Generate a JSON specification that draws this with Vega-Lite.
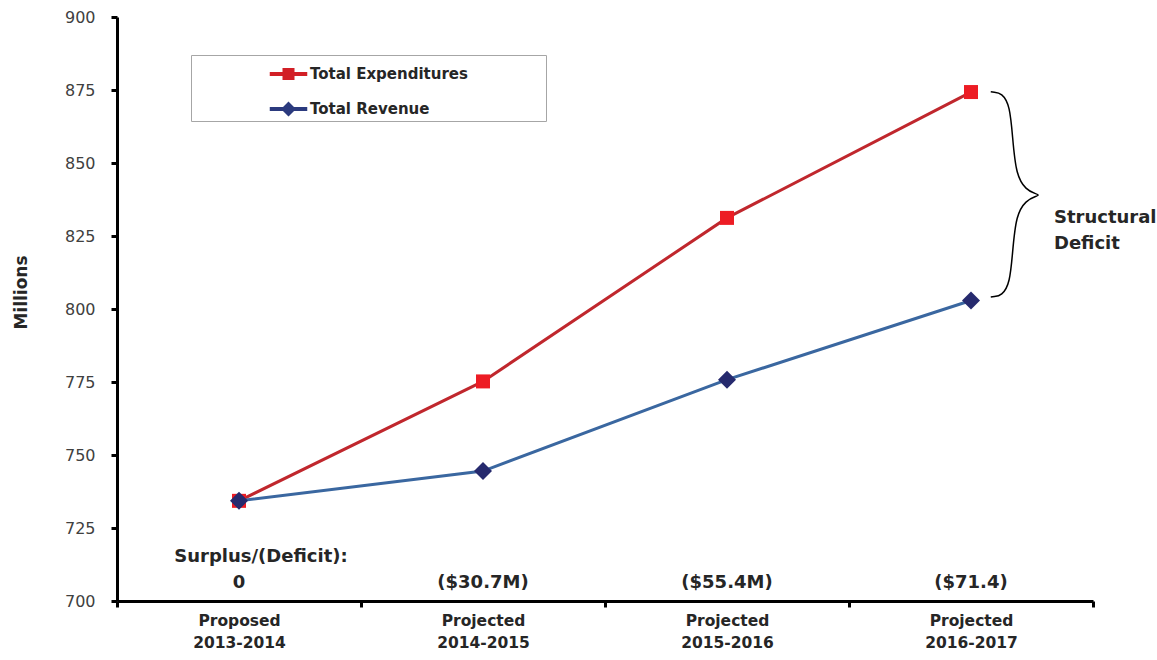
{
  "$schema": "https://vega.github.io/schema/vega-lite/v6.json",
  "width": 976,
  "height": 584,
  "autosize": "none",
  "padding": {"left": 117, "top": 17, "right": 64, "bottom": 59},
  "background": "white",
  "config": {"view": {"stroke": null}, "font": "DejaVu Sans"},
  "datasets": {
    "series": [
      {"period": "Proposed 2013-2014", "series": "Total Expenditures", "value": 734.3},
      {"period": "Projected 2014-2015", "series": "Total Expenditures", "value": 775.2},
      {"period": "Projected 2015-2016", "series": "Total Expenditures", "value": 831.2},
      {"period": "Projected 2016-2017", "series": "Total Expenditures", "value": 874.3},
      {"period": "Proposed 2013-2014", "series": "Total Revenue", "value": 734.3},
      {"period": "Projected 2014-2015", "series": "Total Revenue", "value": 744.5},
      {"period": "Projected 2015-2016", "series": "Total Revenue", "value": 775.8},
      {"period": "Projected 2016-2017", "series": "Total Revenue", "value": 802.9}
    ],
    "deficit": [
      {"period": "Proposed 2013-2014", "label": "0", "value": 706.0},
      {"period": "Projected 2014-2015", "label": "($30.7M)", "value": 706.0},
      {"period": "Projected 2015-2016", "label": "($55.4M)", "value": 706.0},
      {"period": "Projected 2016-2017", "label": "($71.4)", "value": 706.0}
    ],
    "brace": [
      {"i": 0, "bx": 3.581, "by": 874.4},
      {"i": 1, "bx": 3.671, "by": 873.6},
      {"i": 2, "bx": 3.671, "by": 842.5},
      {"i": 3, "bx": 3.78, "by": 839.0},
      {"i": 4, "bx": 3.78, "by": 839.0},
      {"i": 5, "bx": 3.671, "by": 835.5},
      {"i": 6, "bx": 3.671, "by": 805.0},
      {"i": 7, "bx": 3.581, "by": 804.1}
    ],
    "notes": [
      {"nx": 0.59, "ny": 715.0, "note": "Surplus/(Deficit):", "side": "center"},
      {"nx": 3.84, "ny": 831.2, "note": "Structural\nDeficit", "side": "left"}
    ]
  },
  "layer": [
    {
      "encoding": {
        "x": {
          "field": "period",
          "type": "nominal",
          "sort": ["Proposed 2013-2014", "Projected 2014-2015", "Projected 2015-2016", "Projected 2016-2017"],
          "scale": {"type": "band", "paddingInner": 0, "paddingOuter": 0},
          "axis": {
            "title": null,
            "labelAngle": 0,
            "labelExpr": "split(datum.label, ' ')",
            "labelFont": "DejaVu Sans",
            "labelFontWeight": "bold",
            "labelFontSize": 15.5,
            "labelLineHeight": 22,
            "labelColor": "#262626",
            "labelPadding": 6,
            "domainColor": "black",
            "domainWidth": 3,
            "tickColor": "black",
            "tickWidth": 3,
            "tickSize": 6,
            "tickBand": "extent"
          }
        }
      },
      "layer": [
        {
          "data": {"name": "series"},
          "mark": {"type": "line", "strokeWidth": 3},
          "encoding": {
            "y": {
              "field": "value",
              "type": "quantitative",
              "scale": {"domain": [700, 900], "nice": false, "zero": false},
              "axis": {
                "title": "Millions",
                "values": [700, 725, 750, 775, 800, 825, 850, 875, 900],
                "grid": false,
                "domainColor": "black",
                "domainWidth": 3,
                "tickColor": "black",
                "tickWidth": 3,
                "tickSize": 6,
                "labelFont": "DejaVu Sans",
                "labelFontSize": 16,
                "labelColor": "#404040",
                "labelPadding": 16,
                "titleFont": "DejaVu Sans",
                "titleFontSize": 17,
                "titleFontWeight": "bold",
                "titleColor": "#262626",
                "titlePadding": 34,
                "titleY": 275
              }
            },
            "color": {
              "field": "series",
              "type": "nominal",
              "scale": {"domain": ["Total Expenditures", "Total Revenue"], "range": ["#c0272d", "#3a67a0"]},
              "legend": {
                "title": null,
                "orient": "none",
                "legendX": 74,
                "legendY": 38,
                "padding": 4,
                "strokeColor": "#a6a6a6",
                "fillColor": "white",
                "rowPadding": 12,
                "symbolSize": 900,
                "symbolOffset": 78.5,
                "labelOffset": 6.5,
                "labelLimit": 400,
                "labelFont": "DejaVu Sans",
                "labelFontSize": 15,
                "labelFontWeight": "bold",
                "labelColor": "#262626",
                "labelExpr": "datum.label + '\u00a0\u00a0\u00a0\u00a0\u00a0\u00a0\u00a0\u00a0\u00a0\u00a0\u00a0\u00a0\u00a0\u00a0\u200b'",
                "encode": {
                  "symbols": {
                    "update": {
                      "shape": {"signal": "datum.value === 'Total Expenditures' ? 'M-1.25,-0.13H1.25V0.13H-1.25Z M-0.4,-0.4H0.4V0.4H-0.4Z' : 'M-1.25,-0.13H1.25V0.13H-1.25Z M0,-0.5L0.5,0L0,0.5L-0.5,0Z'"},
                      "fill": {"signal": "datum.value === 'Total Expenditures' ? '#d21f26' : '#2b3a7e'"},
                      "strokeWidth": {"value": 0},
                      "opacity": {"value": 1}
                    }
                  }
                }
              }
            }
          }
        },
        {
          "data": {"name": "series"},
          "transform": [{"filter": "datum.series === 'Total Expenditures'"}],
          "mark": {"type": "point", "shape": "square", "filled": true, "opacity": 1, "color": "#ed1c24", "size": 196},
          "encoding": {
            "y": {"field": "value", "type": "quantitative"}
          }
        },
        {
          "data": {"name": "series"},
          "transform": [{"filter": "datum.series === 'Total Revenue'"}],
          "mark": {"type": "point", "shape": "diamond", "filled": true, "opacity": 1, "color": "#262a6e", "size": 324},
          "encoding": {
            "y": {"field": "value", "type": "quantitative"}
          }
        },
        {
          "data": {"name": "deficit"},
          "mark": {"type": "text", "font": "DejaVu Sans", "fontWeight": "bold", "fontSize": 18, "color": "#262626", "baseline": "middle"},
          "encoding": {
            "y": {"field": "value", "type": "quantitative"},
            "text": {"field": "label"}
          }
        }
      ]
    },
    {
      "layer": [
        {
          "data": {"name": "brace"},
          "mark": {"type": "line", "interpolate": "basis", "stroke": "black", "strokeWidth": 1.5},
          "encoding": {
            "x": {"field": "bx", "type": "quantitative", "scale": {"domain": [0, 4], "nice": false, "zero": false}, "axis": null},
            "y": {"field": "by", "type": "quantitative"},
            "order": {"field": "i", "type": "quantitative"}
          }
        },
        {
          "data": {"name": "notes"},
          "transform": [{"filter": "datum.side === 'center'"}],
          "mark": {"type": "text", "align": "center", "font": "DejaVu Sans", "fontWeight": "bold", "fontSize": 18, "color": "#262626", "baseline": "middle"},
          "encoding": {
            "x": {"field": "nx", "type": "quantitative", "scale": {"domain": [0, 4], "nice": false, "zero": false}, "axis": null},
            "y": {"field": "ny", "type": "quantitative"},
            "text": {"field": "note"}
          }
        },
        {
          "data": {"name": "notes"},
          "transform": [{"filter": "datum.side === 'left'"}],
          "mark": {"type": "text", "align": "left", "font": "DejaVu Sans", "fontWeight": "bold", "fontSize": 18, "color": "#262626", "baseline": "middle", "lineBreak": "\n", "lineHeight": 26},
          "encoding": {
            "x": {"field": "nx", "type": "quantitative", "scale": {"domain": [0, 4], "nice": false, "zero": false}, "axis": null},
            "y": {"field": "ny", "type": "quantitative"},
            "text": {"field": "note"}
          }
        }
      ]
    }
  ],
  "resolve": {"scale": {"x": "independent"}}
}
